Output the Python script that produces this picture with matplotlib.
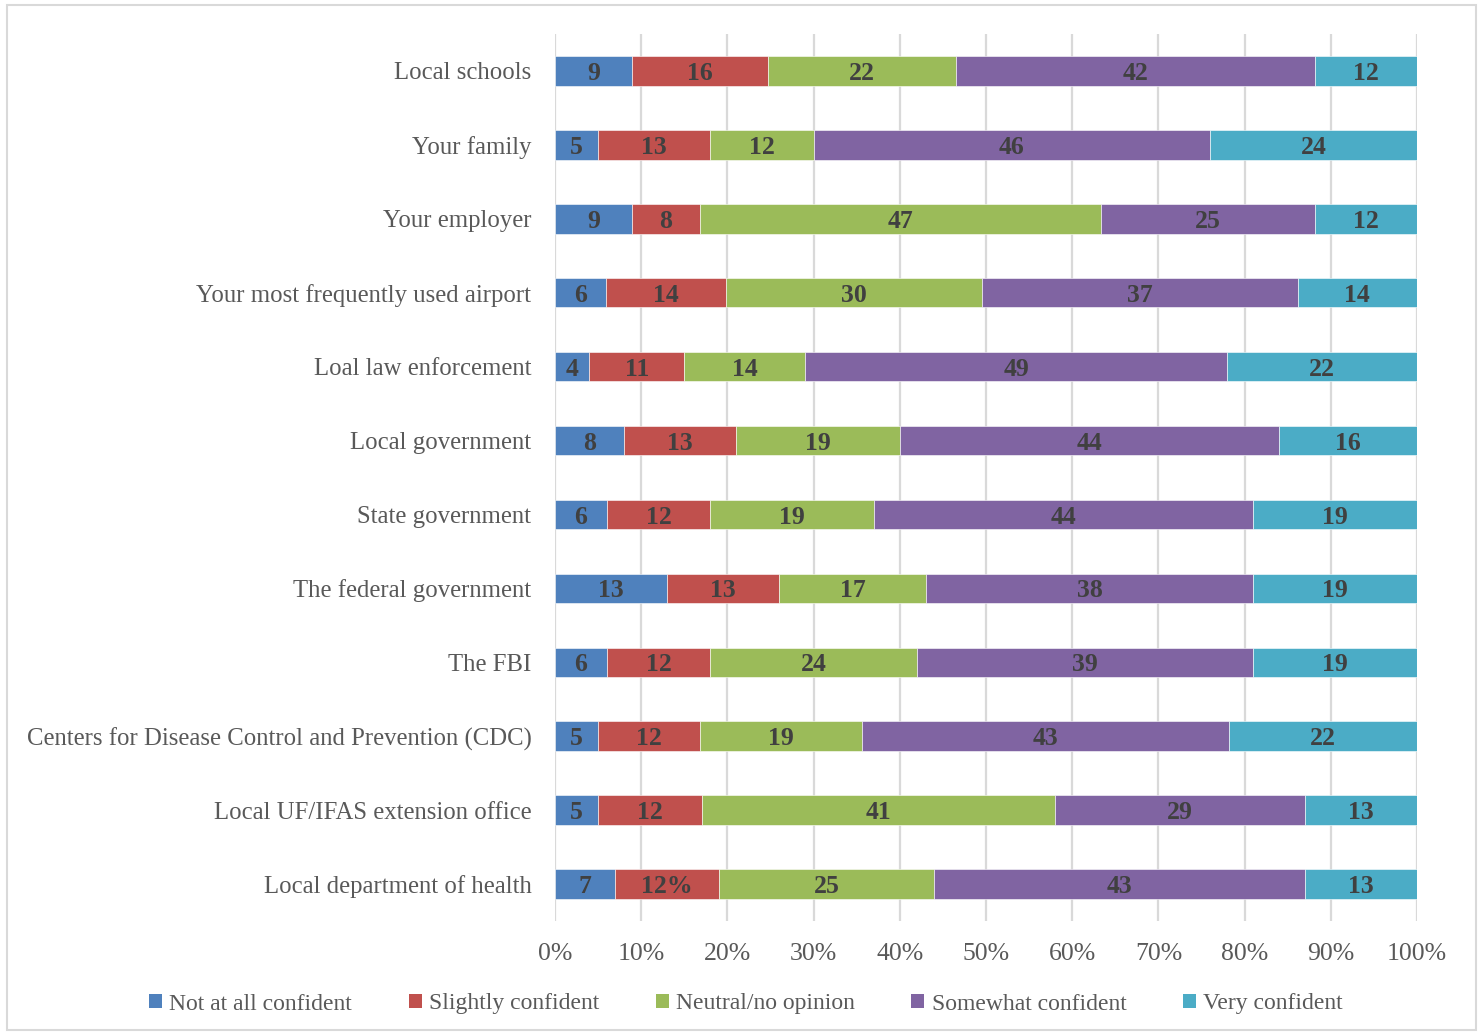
import matplotlib
matplotlib.use("Agg")
import matplotlib.pyplot as plt
from matplotlib.patches import Rectangle, Patch
from matplotlib.ticker import FuncFormatter
import numpy as np

categories = [
    "Local schools",
    "Your family",
    "Your employer",
    "Your most frequently used airport",
    "Loal law enforcement",
    "Local government",
    "State government",
    "The federal government",
    "The FBI",
    "Centers for Disease Control and Prevention (CDC)",
    "Local UF/IFAS extension office",
    "Local department of health",
]
series_names = ["Not at all confident", "Slightly confident", "Neutral/no opinion",
                "Somewhat confident", "Very confident"]
not_at_all = [9, 5, 9, 6, 4, 8, 6, 13, 6, 5, 5, 7]
slightly = [16, 13, 8, 14, 11, 13, 12, 13, 12, 12, 12, 12]
neutral = [22, 12, 47, 30, 14, 19, 19, 17, 24, 19, 41, 25]
somewhat = [42, 46, 25, 37, 49, 44, 44, 38, 39, 43, 29, 43]
very = [12, 24, 12, 14, 22, 16, 19, 19, 19, 22, 13, 13]
# one data label in the source carries a percent sign
label_suffix = {(11, 1): "%"}

colors = ["#4F81BD", "#C0504D", "#9BBB59", "#8064A2", "#4BACC6"]
FONT = "Liberation Serif"

data = np.array([not_at_all, slightly, neutral, somewhat, very], dtype=float)
shares = data / data.sum(axis=0)

fig = plt.figure(figsize=(14.81, 10.36), dpi=100)
ax = fig.add_axes([555 / 1481, 1 - 921 / 1036, 862 / 1481, (921 - 34) / 1036])

y = np.arange(len(categories))
left = np.zeros(len(categories))
for s, (name, col) in enumerate(zip(series_names, colors)):
    w = shares[s]
    ax.barh(y, w, left=left, height=0.4, color=col, label=name, zorder=3,
            edgecolor="white", linewidth=0.4)
    for i in range(len(categories)):
        txt = f"{int(data[s, i])}{label_suffix.get((i, s), '')}"
        ax.text(left[i] + w[i] / 2, y[i] + 0.035, txt, ha="center", va="center",
                fontsize=18.5, fontweight="bold", color="#404040",
                family=FONT, zorder=4)
    left += w

ax.set_xlim(0, 1)
ax.set_ylim(len(categories) - 0.5, -0.5)
ax.set_xticks(np.linspace(0, 1, 11))
ax.xaxis.set_major_formatter(FuncFormatter(lambda v, _: f"{v * 100:.0f}%"))
ax.set_yticks(y)
ax.set_yticklabels(categories)
ax.grid(axis="x", color="#D9D9D9", linewidth=1.6, zorder=0)
for sp in ax.spines.values():
    sp.set_visible(False)
ax.tick_params(axis="both", length=0, colors="#595959")
ax.tick_params(axis="x", pad=16)
ax.tick_params(axis="y", pad=17)
for lab in ax.get_yticklabels():
    lab.set_family(FONT)
    lab.set_fontsize(17.8)
    lab.set_color("#595959")
for lab in ax.get_xticklabels():
    lab.set_family(FONT)
    lab.set_fontsize(18.5)
    lab.set_color("#595959")

handles = [Patch(facecolor=c, label=n) for c, n in zip(colors, series_names)]
fig.legend(handles=handles, loc="center", bbox_to_anchor=(746 / 1481, 1 - 1004 / 1036),
           ncol=5, frameon=False, handlelength=0.55, handleheight=0.55,
           handletextpad=0.3, columnspacing=2.4,
           prop={"family": FONT, "size": 17}, labelcolor="#595959")

fig.patches.append(Rectangle((7 / 1481, 1 - 1030 / 1036), 1469 / 1481, 1025 / 1036,
                             transform=fig.transFigure, fill=False,
                             edgecolor="#D9D9D9", linewidth=1.5))

fig.savefig("out.png", dpi=100)
